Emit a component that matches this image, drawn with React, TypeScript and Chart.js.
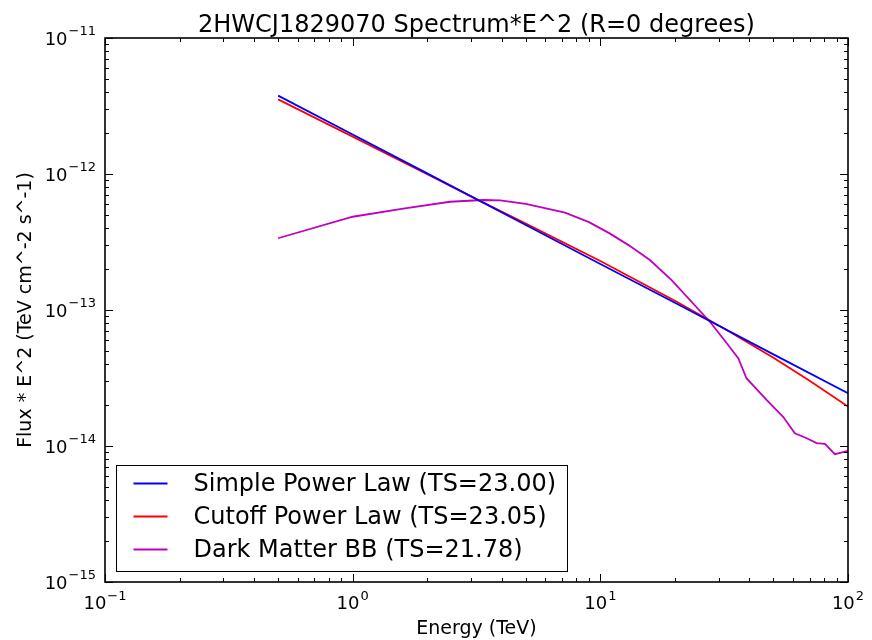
import React, { useEffect, useRef } from "react";
import { Chart, registerables } from "chart.js";

Chart.register(...registerables);

const TITLE = "2HWCJ1829070 Spectrum*E^2 (R=0 degrees)";
const X_TITLE = "Energy (TeV)";
const Y_TITLE = "Flux * E^2 (TeV cm^-2 s^-1)";
const X_TICK_EXPONENTS = [-1, 0, 1, 2];
const Y_TICK_EXPONENTS = [-15, -14, -13, -12, -11];

const SERIES_NAMES = [
  "Simple Power Law (TS=23.00)",
  "Cutoff Power Law (TS=23.05)",
  "Dark Matter BB (TS=21.78)",
];
const SERIES_COLORS = ["#0000ff", "#ff0000", "#bf00bf"];

const spplEnergy = [0.5, 1, 2, 5, 10, 20, 50, 100];
const spplFlux = [3.77e-12, 1.95e-12, 1.01e-12, 4.22e-13, 2.18e-13, 1.13e-13, 4.72e-14, 2.44e-14];

const cutoffEnergy = [0.5, 1, 2, 3.16, 5, 10, 20, 31.6, 50, 70, 100];
const cutoffFlux = [3.54e-12, 1.884e-12, 9.98e-13, 6.53e-13, 4.32e-13, 2.29e-13, 1.17e-13, 7.3e-14, 4.46e-14, 3.02e-14, 1.95e-14];

const dmEnergy = [0.5, 1.0, 1.6, 2.47, 3.36, 3.94, 5.0, 7.2, 9.0, 10.9, 13.0, 15.85, 19.4, 27.7, 32.4, 36.1, 38.9, 46.9, 54.7, 61.0, 68.1, 74.7, 80.7, 88.5, 100];
const dmFlux = [3.37e-13, 4.85e-13, 5.57e-13, 6.25e-13, 6.44e-13, 6.4e-13, 6.03e-13, 5.2e-13, 4.43e-13, 3.66e-13, 3.0e-13, 2.33e-13, 1.66e-13, 8.2e-14, 5.69e-14, 4.41e-14, 3.15e-14, 2.18e-14, 1.64e-14, 1.24e-14, 1.14e-14, 1.05e-14, 1.035e-14, 8.7e-15, 9.2e-15];

const FONT = '"DejaVu Sans", "Bitstream Vera Sans", sans-serif';
const TICK_SIZE = 18;
const EXP_SIZE = 13;

function drawText(
  ctx: CanvasRenderingContext2D,
  s: string,
  x: number,
  y: number,
  size: number,
  align: CanvasTextAlign,
  baseline: CanvasTextBaseline,
  rotate = 0
) {
  ctx.save();
  ctx.font = `${size}px ${FONT}`;
  ctx.fillStyle = "#000";
  ctx.textAlign = align;
  ctx.textBaseline = baseline;
  ctx.translate(x, y);
  if (rotate) ctx.rotate(rotate);
  ctx.fillText(s, 0, 0);
  ctx.restore();
}

function drawSci(
  ctx: CanvasRenderingContext2D,
  exp: number,
  x: number,
  baseY: number,
  expRaise: number,
  align: "center" | "right"
) {
  const base = "10";
  const ex = exp < 0 ? "\u2212" + Math.abs(exp) : String(exp);
  ctx.save();
  ctx.font = `${TICK_SIZE}px ${FONT}`;
  const wb = ctx.measureText(base).width;
  ctx.font = `${EXP_SIZE}px ${FONT}`;
  const we = ctx.measureText(ex).width;
  const total = wb + we + 1;
  const left = align === "center" ? x - total / 2 : x - total;
  ctx.restore();
  drawText(ctx, base, left, baseY, TICK_SIZE, "left", "alphabetic");
  drawText(ctx, ex, left + wb + 1, baseY - expRaise, EXP_SIZE, "left", "alphabetic");
}

const decorPlugin = {
  id: "decor",
  afterDatasetsDraw(chart: any) {
    const ctx: CanvasRenderingContext2D = chart.ctx;
    const { left, right, top, bottom } = chart.chartArea;
    const xs = chart.scales.x;
    const ys = chart.scales.y;
    ctx.save();
    ctx.strokeStyle = "#000";
    ctx.lineWidth = 1;
    const MAJ = 8;
    const MIN = 4;
    ctx.beginPath();
    for (let i = 0; i < X_TICK_EXPONENTS.length; i++) {
      const e = X_TICK_EXPONENTS[i];
      const mmax = i === X_TICK_EXPONENTS.length - 1 ? 1 : 9;
      for (let m = 1; m <= mmax; m++) {
        const px = Math.round(xs.getPixelForValue(m * Math.pow(10, e))) + 0.5;
        const len = m === 1 ? MAJ : MIN;
        ctx.moveTo(px, bottom);
        ctx.lineTo(px, bottom - len);
        ctx.moveTo(px, top);
        ctx.lineTo(px, top + len);
      }
    }
    for (let i = 0; i < Y_TICK_EXPONENTS.length; i++) {
      const e = Y_TICK_EXPONENTS[i];
      const mmax = i === Y_TICK_EXPONENTS.length - 1 ? 1 : 9;
      for (let m = 1; m <= mmax; m++) {
        const py = Math.round(ys.getPixelForValue(m * Math.pow(10, e))) + 0.5;
        const len = m === 1 ? MAJ : MIN;
        ctx.moveTo(left, py);
        ctx.lineTo(left + len, py);
        ctx.moveTo(right, py);
        ctx.lineTo(right - len, py);
      }
    }
    ctx.stroke();
    ctx.lineWidth = 1.6;
    ctx.strokeRect(left, top, right - left, bottom - top);
    ctx.restore();

    for (const e of X_TICK_EXPONENTS) {
      const px = xs.getPixelForValue(Math.pow(10, e));
      drawSci(ctx, e, px, bottom + 27, 9, "center");
    }
    for (const e of Y_TICK_EXPONENTS) {
      const py = ys.getPixelForValue(Math.pow(10, e));
      drawSci(ctx, e, left - 9, py + 7, 10, "right");
    }

    const cx = (left + right) / 2;
    const cy = (top + bottom) / 2;
    drawText(ctx, TITLE, cx, 32, 24, "center", "alphabetic");
    drawText(ctx, X_TITLE, cx, 634, 19, "center", "alphabetic");
    drawText(ctx, Y_TITLE, 31, cy, 19, "center", "alphabetic", -Math.PI / 2);

    const lx = left + 11.5;
    const ly = 465.5;
    const lw = 451;
    const lh = 106;
    ctx.save();
    ctx.fillStyle = "#fff";
    ctx.fillRect(lx, ly, lw, lh);
    ctx.strokeStyle = "#000";
    ctx.lineWidth = 1;
    ctx.strokeRect(lx, ly, lw, lh);
    const rowY = [483.5, 516.5, 549.5];
    for (let i = 0; i < SERIES_NAMES.length; i++) {
      ctx.strokeStyle = SERIES_COLORS[i];
      ctx.lineWidth = 1.8;
      ctx.beginPath();
      ctx.moveTo(lx + 17, rowY[i]);
      ctx.lineTo(lx + 51, rowY[i]);
      ctx.stroke();
      drawText(ctx, SERIES_NAMES[i], lx + 77, rowY[i] + 1, 24, "left", "middle");
    }
    ctx.restore();
  },
};

function toPoints(xs: number[], ys: number[]) {
  return xs.map((x, i) => ({ x, y: ys[i] }));
}

export default function App() {
  const ref = useRef<HTMLCanvasElement>(null);
  useEffect(() => {
    if (!ref.current) return;
    const chart = new Chart(ref.current, {
      type: "line",
      data: {
        datasets: [
          { label: SERIES_NAMES[0], data: toPoints(spplEnergy, spplFlux), borderColor: SERIES_COLORS[0] },
          { label: SERIES_NAMES[1], data: toPoints(cutoffEnergy, cutoffFlux), borderColor: SERIES_COLORS[1] },
          { label: SERIES_NAMES[2], data: toPoints(dmEnergy, dmFlux), borderColor: SERIES_COLORS[2] },
        ].map((d) => ({ ...d, borderWidth: 1.8, pointRadius: 0, tension: 0, fill: false })),
      },
      options: {
        responsive: false,
        animation: false,
        devicePixelRatio: 1,
        layout: { padding: { left: 105, top: 38, right: 24, bottom: 58 } },
        scales: {
          x: { type: "logarithmic", min: 0.1, max: 100, display: false },
          y: { type: "logarithmic", min: 1e-15, max: 1e-11, display: false },
        },
        plugins: { legend: { display: false }, title: { display: false }, tooltip: { enabled: false } },
      },
      plugins: [decorPlugin],
    });
    return () => chart.destroy();
  }, []);
  return (
    <div style={{ position: "fixed", left: 0, top: 0, width: 872, height: 640, background: "#fff" }}>
      <canvas ref={ref} width={872} height={640} />
    </div>
  );
}
